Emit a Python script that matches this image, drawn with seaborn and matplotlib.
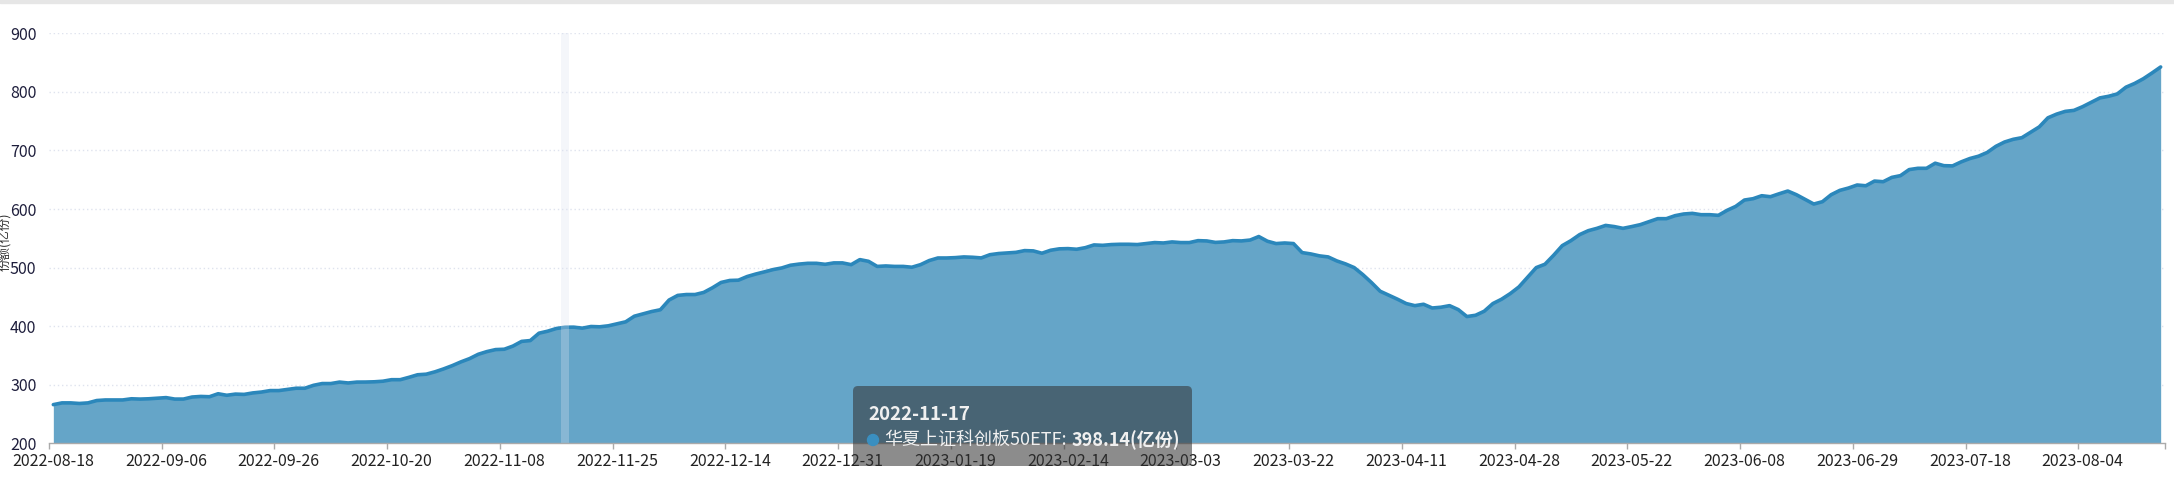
import numpy as np
import pandas as pd
import matplotlib
matplotlib.use('Agg')
import matplotlib.pyplot as plt
import seaborn as sns
from matplotlib.patches import FancyBboxPatch, Rectangle, Circle
from matplotlib.transforms import IdentityTransform

# fund shares (亿份), one value per trading day
shares_aug_sep = [266, 269, 269, 268, 269, 273, 274, 274, 274, 276, 275.5, 276,
                  277, 278, 275.5, 275.5, 279, 280, 279.5, 284.6, 282, 284, 283.5,
                  286, 287.5, 290, 290, 292, 294, 294, 299, 302, 302, 304.5, 303, 304.5]
shares_oct_nov = [304.6, 305, 306, 308.6, 308.6, 312.6, 317, 318, 322, 327, 332.6,
                  339, 344.6, 352, 356.6, 360, 360.6, 366, 374, 375.4, 388, 391.4,
                  396, 398.1, 398.3, 396.6, 399.4, 398.9, 400.6, 404, 407.4, 417,
                  421, 425, 428]
shares_dec_jan = [444.6, 452.5, 454, 454, 457.6, 465.5, 474.6, 478, 478.5, 484.7,
                  489, 492.7, 496.6, 499.4, 504, 506, 507.3, 507.3, 505.6, 508, 508,
                  505, 513.6, 510.7, 502, 502.8, 502, 502, 500.6, 505, 512, 516.4,
                  516.4, 517]
shares_feb_mar = [518.2, 517.6, 516.5, 522, 524, 525, 526, 529, 528.5, 524.5, 529.6,
                  532, 532.4, 531.3, 534, 538.7, 538, 539.3, 539.8, 539.8, 539.3,
                  541, 542.7, 542, 543.8, 542.7, 542.7, 546, 545.5, 543, 543.8, 546,
                  545.5, 547, 553]
shares_mar_may = [545, 541, 542, 541, 525.6, 523.3, 520, 518.2, 511.4, 506.3, 500,
                  488, 474.4, 459.6, 452.8, 446, 438.6, 435, 437.4, 431, 432.3, 435,
                  428.3, 416.4, 418.6, 425.5, 438.6, 446, 455.6, 467, 483.5, 500, 505.7]
shares_may_jun = [521, 537.5, 546, 556.3, 563, 567, 572, 570, 567, 570, 573.3, 578.4,
                  583.5, 583.5, 588.6, 591.5, 592.6, 590.3, 590.3, 589.2, 597.7,
                  604.5, 615.3, 617.6, 622.7, 621, 626, 630.7, 624.4, 616.5, 608.5,
                  612.5, 624.4, 631.8, 635.8]
shares_jul_aug = [641, 639.7, 647.7, 646.6, 654, 657, 667.3, 669.5, 669.5, 678.2, 674,
                  673.6, 680.5, 686.2, 690.2, 696.6, 707, 714.4, 719, 721.8, 731,
                  740.2, 755.7, 762, 766.7, 768.4, 774.7, 782.2, 789.7, 792.5, 796.5,
                  808, 814.4, 822.4, 832.2, 842.5]

tick_labels = ['2022-08-18', '2022-09-06', '2022-09-26', '2022-10-20', '2022-11-08',
               '2022-11-25', '2022-12-14', '2022-12-31', '2023-01-19', '2023-02-14',
               '2023-03-03', '2023-03-22', '2023-04-11', '2023-04-28', '2023-05-22',
               '2023-06-08', '2023-06-29', '2023-07-18', '2023-08-04']
label_step = 13

hover_index = 59
hover_date = '2022-11-17'
hover_value = 398.14
series_name = '华夏上证科创板50ETF'

shares = (shares_aug_sep + shares_oct_nov + shares_dec_jan + shares_feb_mar
          + shares_mar_may + shares_may_jun + shares_jul_aug)
df = pd.DataFrame({'idx': np.arange(len(shares)), 'share': shares})

W, H = 2174, 484
sns.set_style('white')
plt.rcParams['font.family'] = ['Noto Sans CJK SC', 'DejaVu Sans']

fig = plt.figure(figsize=(W / 100, H / 100), dpi=100)
ax = fig.add_axes([49 / W, 1 - 443.3 / H, (2165 - 49) / W, (443.3 - 33.3) / H])

ax.fill_between(df['idx'], 200, df['share'], color='#65a5c8', lw=0, zorder=2)
sns.lineplot(data=df, x='idx', y='share', ax=ax, color='#2b87bb', lw=2.6, zorder=3)
ax.axvspan(hover_index - 0.5, hover_index + 0.5, color='#dce2f0', alpha=0.3,
           lw=0, zorder=4)

n = len(shares)
ax.set_xlim(-0.5, n - 0.5)
ax.set_ylim(200, 900)
ax.set_yticks(range(200, 901, 100))
ax.set_xticks(np.arange(len(tick_labels)) * label_step)
ax.set_xticklabels(tick_labels)
edges = list(np.arange(len(tick_labels)) * label_step - 0.5) + [n - 0.5]
ax.set_xticks(edges, minor=True)
ax.tick_params(axis='x', which='major', length=0, pad=7, labelsize=11.5,
               labelcolor='#222222')
ax.tick_params(axis='x', which='minor', length=4, width=1, color='#aaaaaa',
               direction='out', bottom=True)
ax.tick_params(axis='y', length=0, pad=9, labelsize=11.5, labelcolor='#1e1e3c')
ax.set_xlabel('')
ax.set_ylabel('')

for v in range(300, 901, 100):
    ax.axhline(v, color='#dfe3ee', lw=1, ls=(0, (1, 2)), zorder=1)
for side in ['top', 'right', 'left']:
    ax.spines[side].set_visible(False)
ax.spines['bottom'].set_color('#aaaaaa')
ax.spines['bottom'].set_linewidth(1)
ax.spines['bottom'].set_zorder(5)

# y axis title hugging the left edge
fig.text(6 / W, 0.5, '份额(亿份)', rotation=90, ha='center', va='center',
         fontsize=9, color='#333333')

# top grey strip
fig.patches.append(Rectangle((0, 1 - 3 / H), 1, 3 / H, transform=fig.transFigure,
                             color='#e6e6e6', zorder=0))

# tooltip
ident = IdentityTransform()
box = FancyBboxPatch((853, H - 466), 1192 - 853, 466 - 386,
                     boxstyle='round,pad=0,rounding_size=5', transform=ident,
                     facecolor='#323232', alpha=0.56, edgecolor='none', zorder=10)
fig.patches.append(box)
fig.text(868, H - 414, hover_date, transform=ident, fontsize=13.5, fontweight='bold',
         color='#f0f0f0', va='center', ha='left', zorder=11)
fig.patches.append(Circle((873, H - 440), 5.5, transform=ident, color='#3a8fc0',
                          zorder=11))
fig.text(884, H - 440, series_name + ':', transform=ident, fontsize=13,
         color='#f0f0f0', va='center', ha='left', zorder=11)
fig.text(1072, H - 440, f'{hover_value:.2f}(亿份)', transform=ident, fontsize=13,
         fontweight='bold', color='#f0f0f0', va='center', ha='left', zorder=11)

fig.savefig('out.png', dpi=100)
